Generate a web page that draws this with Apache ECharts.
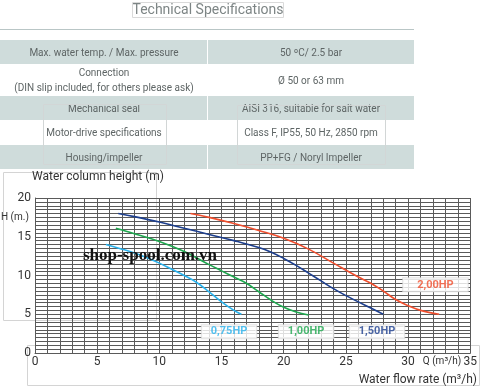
<!DOCTYPE html>
<html><head><meta charset="utf-8">
<script src="https://cdn.jsdelivr.net/npm/echarts@6/dist/echarts.min.js"></script>
<style>html,body{margin:0;padding:0;background:#fff}#c{width:480px;height:390px}</style>
</head><body><div id="c"></div>
<script>
// ---- table content ----
var specLeft = ['Max. water temp. / Max. pressure', 'Connection\n(DIN slip included, for others please ask)', 'Mechanical seal', 'Motor-drive specifications', 'Housing/impeller'];
var specRight = ['50 ºC/ 2.5 bar', 'Ø 50 or 63 mm', 'AISI 316, suitable for salt water', 'Class F, IP55, 50 Hz, 2850 rpm', 'PP+FG / Noryl Impeller'];

// ---- chart data ----
var seriesNames = ['0,75HP', '1,00HP', '1,50HP', '2,00HP'];
var hp075 = [[5.7,14.0],[7,13.4],[8,12.9],[9,12.3],[10,11.6],[11,10.8],[12,10.0],[13,9.1],[14,7.9],[15,6.6],[16,5.5],[16.6,5.0]];
var hp100 = [[6.5,16.1],[8,15.4],[10,14.4],[12,13.1],[14,11.4],[15,10.6],[16,9.8],[17,9.0],[18,7.9],[19,6.8],[20,5.9],[21,5.3],[22,4.9]];
var hp150 = [[6.7,18.0],[8,17.6],[10,16.9],[12,16.1],[14,15.3],[16,14.5],[18,13.6],[19,13.0],[20,12.2],[21,11.3],[22,10.3],[23,9.3],[24,8.3],[25,7.4],[26,6.6],[27,5.8],[28,5.0]];
var hp200 = [[12.5,18.0],[14,17.5],[16,16.7],[18,15.8],[20,14.8],[22,13.4],[24,11.6],[26,9.8],[27,9.0],[28,8.0],[29,6.9],[30,6.1],[31,5.5],[32.5,5.0]];
var labelPos = [[15.6,2.75],[21.8,2.75],[27.5,2.75],[32.2,8.8]];
var xTicks = [0,5,10,15,20,25,30,35];
var yTicks = [0,5,10,15,20];
var colors = ['#2ab3ee', '#1ea84f', '#1d3f8e', '#f04f2e'];

var chart = echarts.init(document.getElementById('c'));

var g = [];
// title
g.push({type:'text', z:10, style:{text:'Technical Specifications', x:208, y:10, align:'center', verticalAlign:'middle', fill:'#7d8585', font:'14px Roboto'}});
g.push({type:'rect', shape:{x:132.5,y:2.5,width:151,height:15}, z:11, style:{fill:'none', stroke:'#dadada', lineWidth:1}});
g.push({type:'line', shape:{x1:0,y1:29.5,x2:414,y2:29.5}, style:{stroke:'#b9c6c6', lineWidth:1}});
var rowTop = [40, 64, 96, 120, 145];
var rowBot = [64, 96, 120, 145, 169];
for (var i = 0; i < 5; i++) {
  if (i % 2 === 0) {
    g.push({type:'rect', shape:{x:0,y:rowTop[i],width:414,height:rowBot[i]-rowTop[i]}, style:{fill:'#cfdcdb'}});
    g.push({type:'line', shape:{x1:207.5,y1:rowTop[i],x2:207.5,y2:rowBot[i]}, style:{stroke:'#fff', lineWidth:1}});
  }
  var cy = (rowTop[i] + rowBot[i]) / 2 + 1;
  g.push({type:'text', z:10, style:{text:specLeft[i], x:104, y:cy, align:'center', verticalAlign:'middle', fill:'#5e6565', font:'10px Roboto', lineHeight:15}});
  g.push({type:'text', z:10, style:{text:specRight[i], x:311, y:cy, align:'center', verticalAlign:'middle', fill:'#5e6565', font:'10px Roboto'}});
}
// faint boxes
g.push({type:'rect', shape:{x:43.5,y:104.5,width:123,height:60}, z:11, style:{fill:'none', stroke:'#d2d6d6', lineWidth:1}});
g.push({type:'rect', shape:{x:237.5,y:105.5,width:148,height:59}, z:11, style:{fill:'none', stroke:'#d2d6d6', lineWidth:1}});
g.push({type:'rect', shape:{x:3.5,y:172.5,width:153,height:148}, z:0, style:{fill:'none', stroke:'#d4d4d4', lineWidth:1}});
g.push({type:'rect', shape:{x:27.5,y:345.5,width:452,height:40}, z:0, style:{fill:'none', stroke:'#d4d4d4', lineWidth:1}});
// axis texts
g.push({type:'text', z:10, style:{text:'Water column height (m)', x:32, y:177, verticalAlign:'middle', fill:'#333', font:'12px Roboto'}});
g.push({type:'text', z:10, style:{text:'H (m.)', x:1, y:217, verticalAlign:'middle', fill:'#333', font:'10px Roboto'}});
g.push({type:'text', z:10, style:{text:'Q (m³/h)', x:442, y:361, align:'center', verticalAlign:'middle', fill:'#333', font:'10px Roboto'}});
g.push({type:'text', z:10, style:{text:'Water flow rate (m³/h)', x:477, y:380, align:'right', verticalAlign:'middle', fill:'#333', font:'12px Roboto'}});
// watermark
g.push({type:'text', z:100, style:{text:'shop-spool.com.vn', x:150, y:256, align:'center', verticalAlign:'middle', fill:'#111', font:'bold 17px "Liberation Serif"'}});

var gridLine = {color:'#5a5a5a', width:1};
var series = [hp075, hp100, hp150, hp200].map(function(d, i){
  return {name:seriesNames[i], type:'line', data:d, smooth:0.4, showSymbol:false, symbol:'none',
    lineStyle:{color:colors[i], width:1.6}, z:5};
});
series.push({type:'scatter', symbolSize:0, z:20,
  data: labelPos.map(function(p, i){
    return {value:p, name:seriesNames[i], label:{color:colors[i], padding: i===3 ? [1,14,1,14] : [1,9,1,9]}};
  }),
  label:{show:true, position:'inside', formatter:'{b}', fontFamily:'Roboto', fontWeight:'bold', fontSize:11,
    backgroundColor:'#fff', borderColor:'#dcdcdc', borderWidth:1}
});

chart.setOption({
  animation:false,
  grid:{left:35, right:7, top:198, bottom:37},
  xAxis:{type:'value', min:0, max:35, interval:5,
    axisLine:{show:true, lineStyle:{color:'#5a5a5a'}}, axisTick:{show:false},
    axisLabel:{color:'#333', fontSize:12, fontFamily:'Roboto', margin:3,
      formatter:function(v){ return xTicks.indexOf(v) >= 0 ? String(v) : ''; }},
    splitLine:{show:true, lineStyle:gridLine},
    minorTick:{show:false, splitNumber:5}, minorSplitLine:{show:true, lineStyle:gridLine}},
  yAxis:{type:'value', min:0, max:20, interval:5,
    axisLine:{show:true, lineStyle:{color:'#5a5a5a'}}, axisTick:{show:false},
    axisLabel:{color:'#333', fontSize:12, fontFamily:'Roboto', margin:4,
      formatter:function(v){ return yTicks.indexOf(v) >= 0 ? String(v) : ''; }},
    splitLine:{show:true, lineStyle:gridLine},
    minorTick:{show:false, splitNumber:10}, minorSplitLine:{show:true, lineStyle:gridLine}},
  series: series,
  graphic: g
});
</script></body></html>
